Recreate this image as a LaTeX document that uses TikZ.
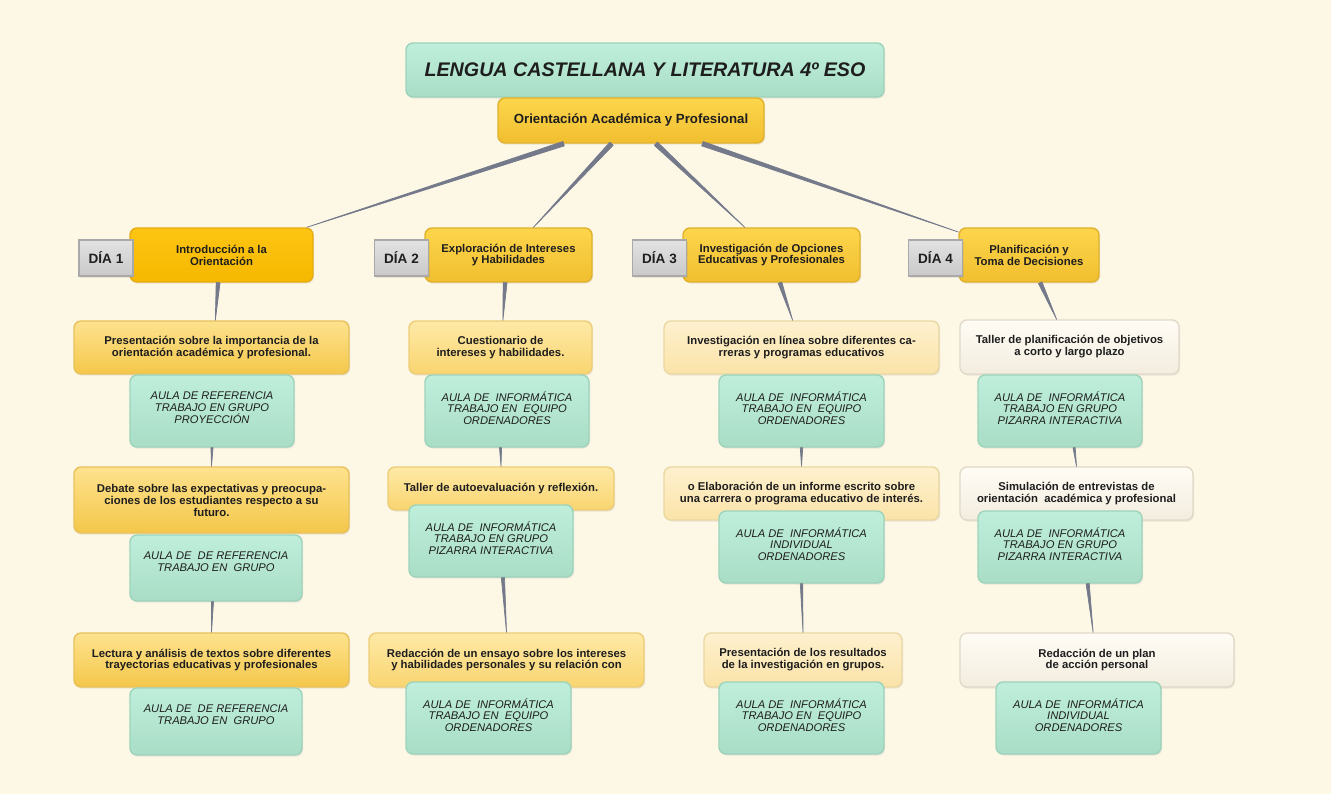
\documentclass[tikz,border=0pt]{standalone}
\usepackage{fontspec}
\setmainfont{Liberation Sans}
\usetikzlibrary{calc,shadows}
\definecolor{fondo}{HTML}{FDF7E6}
\definecolor{tinta}{HTML}{1E1E1E}
\definecolor{mentaarriba}{HTML}{BFEFDB}
\definecolor{mentaabajo}{HTML}{A9DDC6}
\definecolor{mentaborde}{HTML}{9DD3BB}
\definecolor{oroarriba}{HTML}{FDD54C}
\definecolor{oroabajo}{HTML}{F1BF2F}
\definecolor{oroborde}{HTML}{E0B12C}
\definecolor{naranjaarriba}{HTML}{FDC512}
\definecolor{naranjaabajo}{HTML}{F6B800}
\definecolor{naranjaborde}{HTML}{E6AD12}
\definecolor{grisarriba}{HTML}{E2E2E2}
\definecolor{grisabajo}{HTML}{C9C9C9}
\definecolor{grisborde}{HTML}{A9A9A9}
\definecolor{unoarriba}{HTML}{FDE28E}
\definecolor{unoabajo}{HTML}{F4C74A}
\definecolor{unoborde}{HTML}{E8C15A}
\definecolor{dosarriba}{HTML}{FEE9A6}
\definecolor{dosabajo}{HTML}{F9D570}
\definecolor{dosborde}{HTML}{EDCD78}
\definecolor{tresarriba}{HTML}{FEF1CF}
\definecolor{tresabajo}{HTML}{FBE3A8}
\definecolor{tresborde}{HTML}{EAD7A2}
\definecolor{cuatroarriba}{HTML}{FFFCF5}
\definecolor{cuatroabajo}{HTML}{F3EDDF}
\definecolor{cuatroborde}{HTML}{E1D9C9}
\definecolor{conector}{HTML}{747A8A}
\tikzset{
  caja/.style={rounded corners=4pt, line width=0.8pt, inner sep=0pt, align=center, text=tinta,
    font=\fontsize{6.45}{6.8}\selectfont\bfseries,
    drop shadow={shadow xshift=0.6pt, shadow yshift=-0.9pt, opacity=0.15}},
  tam/.style 2 args={minimum width=#1*0.02cm, minimum height=#2*0.02cm},
  titulo/.style={caja, draw=mentaborde, top color=mentaarriba, bottom color=mentaabajo,
    font=\fontsize{11.2}{13}\selectfont\bfseries\itshape},
  central/.style={caja, draw=oroborde, top color=oroarriba, bottom color=oroabajo,
    font=\fontsize{7.55}{9}\selectfont\bfseries},
  tema/.style={caja, draw=oroborde, top color=oroarriba, bottom color=oroabajo},
  temauno/.style={caja, draw=naranjaborde, top color=naranjaarriba, bottom color=naranjaabajo},
  etiqueta/.style={caja, rounded corners=0pt, draw=grisborde, top color=grisarriba, bottom color=grisabajo,
    font=\fontsize{7.7}{9}\selectfont\bfseries, tam={54}{36}},
  actuno/.style={caja, draw=unoborde, top color=unoarriba, bottom color=unoabajo},
  actdos/.style={caja, draw=dosborde, top color=dosarriba, bottom color=dosabajo},
  acttres/.style={caja, draw=tresborde, top color=tresarriba, bottom color=tresabajo},
  actcuatro/.style={caja, draw=cuatroborde, top color=cuatroarriba, bottom color=cuatroabajo},
  aula/.style={caja, draw=mentaborde, top color=mentaarriba, bottom color=mentaabajo},
  aulatxt/.style={anchor=north, yshift=-9.5pt, align=center, inner sep=0pt, text=tinta,
    font=\fontsize{6.35}{6.8}\selectfont\itshape},
  rama/.style={fill=conector, draw=conector, line width=0.4pt, line join=round},
  afila/.style={to path={($(\tikztostart)!#1!90:(\tikztotarget)$) -- (\tikztotarget)
    -- ($(\tikztostart)!#1!-90:(\tikztotarget)$) -- cycle}}
}
\begin{document}
\begin{tikzpicture}[x=0.02cm,y=-0.02cm]
\fill[fondo] (0,0) rectangle (1331,794);
\useasboundingbox (0,0) rectangle (1331,794);

\node[titulo,tam={478}{54}] (titulo) at (645,70) {LENGUA CASTELLANA Y LITERATURA 4º ESO};
\node[central,tam={266}{45}] (orient) at (631,120.5) {Orientación Académica y Profesional};

% dias
\node[temauno,tam={183}{54}] (d1) at (221.5,255) {Introducción a la\\Orientación};
\node[tema,tam={167}{54}] (d2) at (508.5,255) {Exploración de Intereses\\y Habilidades};
\node[tema,tam={177}{54}] (d3) at (771.5,255) {Investigación de Opciones\\Educativas y Profesionales};
\node[tema,tam={140}{54}] (d4) at (1029,255) {Planificación y\\Toma de Decisiones};
\node[etiqueta] (e1) at (106,258) {DÍA 1};
\node[etiqueta] (e2) at (401.5,258) {DÍA 2};
\node[etiqueta] (e3) at (659.5,258) {DÍA 3};
\node[etiqueta] (e4) at (935.5,258) {DÍA 4};

% dia 1
\node[actuno,tam={275}{53}] (a1) at (211.5,347.5) {Presentación sobre la importancia de la\\orientación académica y profesional.};
\node[aula,tam={164}{72},label={[aulatxt]north:{AULA DE REFERENCIA\\TRABAJO EN GRUPO\\PROYECCIÓN}}] (l1) at (212,411) {};
\node[actuno,tam={275}{66}] (a2) at (211.5,500) {Debate sobre las expectativas y preocupa-\\ciones de los estudiantes respecto a su\\futuro.};
\node[aula,tam={172}{66},label={[aulatxt]north:{AULA DE~ DE REFERENCIA\\TRABAJO EN~ GRUPO}}] (l2) at (216,568) {};
\node[actuno,tam={275}{54}] (a3) at (211.5,660) {Lectura y análisis de textos sobre diferentes\\trayectorias educativas y profesionales};
\node[aula,tam={172}{67},label={[aulatxt]north:{AULA DE~ DE REFERENCIA\\TRABAJO EN~ GRUPO}}] (l3) at (216,721.5) {};

% dia 2
\node[actdos,tam={183}{53}] (a4) at (500.5,347.5) {Cuestionario de\\intereses y habilidades.};
\node[aula,tam={164}{72},label={[aulatxt]north:{AULA DE~ INFORMÁTICA\\TRABAJO EN~ EQUIPO\\ORDENADORES}}] (l4) at (507,411) {};
\node[actdos,tam={226}{43}] (a5) at (501,488.5) {Taller de autoevaluación y reflexión.};
\node[aula,tam={164}{72},label={[aulatxt]north:{AULA DE~ INFORMÁTICA\\TRABAJO EN GRUPO\\PIZARRA INTERACTIVA}}] (l5) at (491,541) {};
\node[actdos,tam={275}{54}] (a6) at (506.5,660) {Redacción de un ensayo sobre los intereses\\y habilidades personales y su relación con};
\node[aula,tam={165}{72},label={[aulatxt]north:{AULA DE~ INFORMÁTICA\\TRABAJO EN~ EQUIPO\\ORDENADORES}}] (l6) at (488.5,718) {};

% dia 3
\node[acttres,tam={275}{53}] (a7) at (801.5,347.5) {Investigación en línea sobre diferentes ca-\\rreras y programas educativos};
\node[aula,tam={165}{72},label={[aulatxt]north:{AULA DE~ INFORMÁTICA\\TRABAJO EN~ EQUIPO\\ORDENADORES}}] (l7) at (801.5,411) {};
\node[acttres,tam={275}{53}] (a8) at (801.5,493.5) {o Elaboración de un informe escrito sobre\\una carrera o programa educativo de interés.};
\node[aula,tam={165}{72},label={[aulatxt]north:{AULA DE~ INFORMÁTICA\\INDIVIDUAL\\ORDENADORES}}] (l8) at (801.5,547) {};
\node[acttres,tam={198}{54}] (a9) at (803,660) {Presentación de los resultados\\de la investigación en grupos.};
\node[aula,tam={165}{72},label={[aulatxt]north:{AULA DE~ INFORMÁTICA\\TRABAJO EN~ EQUIPO\\ORDENADORES}}] (l9) at (801.5,718) {};

% dia 4
\node[actcuatro,tam={219}{54}] (a10) at (1069.5,347) {Taller de planificación de objetivos\\a corto y largo plazo};
\node[aula,tam={164}{72},label={[aulatxt]north:{AULA DE~ INFORMÁTICA\\TRABAJO EN GRUPO\\PIZARRA INTERACTIVA}}] (l10) at (1060,411) {};
\node[actcuatro,tam={233}{53}] (a11) at (1076.5,493.5) {Simulación de entrevistas de\\orientación~ académica y profesional};
\node[aula,tam={164}{72},label={[aulatxt]north:{AULA DE~ INFORMÁTICA\\TRABAJO EN GRUPO\\PIZARRA INTERACTIVA}}] (l11) at (1060,547) {};
\node[actcuatro,tam={274}{54}] (a12) at (1097,660) {Redacción de un plan\\de acción personal};
\node[aula,tam={165}{72},label={[aulatxt]north:{AULA DE~ INFORMÁTICA\\INDIVIDUAL\\ORDENADORES}}] (l12) at (1078.5,718) {};

% ramas
\filldraw[rama] (orient.199) to[afila=1.3pt] (d1.18);
\filldraw[rama] (orient.230) to[afila=1.3pt] (d2.48);
\filldraw[rama] (orient.-43) to[afila=1.3pt] (d3.134);
\filldraw[rama] (orient.-18) to[afila=1.3pt] (d4.162);
\filldraw[rama] (d1.263) to[afila=1.1pt] (a1.82);
\filldraw[rama] (d2.263) to[afila=1.1pt] (a4.85);
\filldraw[rama] (d3.287) to[afila=1.1pt] (a7.108);
\filldraw[rama] (d4.292) to[afila=1.1pt] (a10.115);
\filldraw[rama] (l1.south) to[afila=0.6pt] (a2.north);
\filldraw[rama] (l2.264) to[afila=0.6pt] (a3.north);
\filldraw[rama] (l4.260) to[afila=0.6pt] (a5.north);
\filldraw[rama] (l5.288) to[afila=0.9pt] (a6.north);
\filldraw[rama] (l7.south) to[afila=0.7pt] (a8.north);
\filldraw[rama] (l8.south) to[afila=0.7pt] (a9.north);
\filldraw[rama] (l10.291) to[afila=0.6pt] (a11.north);
\filldraw[rama] (l11.307) to[afila=0.9pt] (a12.98);
\end{tikzpicture}
\end{document}
